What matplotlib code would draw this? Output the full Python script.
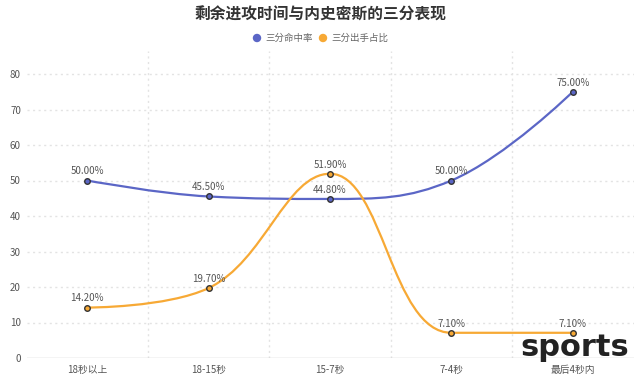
import matplotlib
matplotlib.use("Agg")
import matplotlib.pyplot as plt
import numpy as np
from matplotlib.path import Path
from matplotlib.patches import PathPatch

plt.rcParams['font.family'] = ['Noto Sans CJK SC', 'DejaVu Sans']

categories = ["18秒以上", "18-15秒", "15-7秒", "7-4秒", "最后4秒内"]
hit_rate = [50.0, 45.5, 44.8, 50.0, 75.0]
shot_share = [14.2, 19.7, 51.9, 7.1, 7.1]
series_names = ["三分命中率", "三分出手占比"]
yticks = [0, 10, 20, 30, 40, 50, 60, 70, 80]
title = "剩余进攻时间与内史密斯的三分表现"

blue = "#5b66c6"
orange = "#f7a935"

fig = plt.figure(figsize=(6.4, 3.79), dpi=100)
W, H = 640, 379
left, right, bottom, top = 26.5, 633.5, 358, 51
ax = fig.add_axes([left / W, 1 - bottom / H, (right - left) / W, (bottom - top) / H])
ax.set_xlim(-0.5, len(categories) - 0.5)
ax.set_ylim(0, 80 + (74 - 51) / 35.5 * 10)

for s in ax.spines.values():
    s.set_visible(False)
ax.axhline(0, color="#c8c8c8", lw=1, zorder=1)
for y in yticks[1:]:
    ax.axhline(y, color="#e3e3e3", lw=1, ls=(0, (1.5, 2.5)), zorder=0)
for xb in np.arange(0.5, len(categories) - 0.5, 1):
    ax.axvline(xb, color="#e3e3e3", lw=1, ls=(0, (1.5, 2.5)), zorder=0)

ax.set_yticks(yticks)
ax.set_yticklabels([str(v) for v in yticks], fontsize=7, color="#555555")
ax.set_xticks(range(len(categories)))
ax.set_xticklabels(categories, fontsize=7, color="#555555")
ax.tick_params(axis="both", length=0, pad=4)
ax.tick_params(axis="x", pad=5)


def echarts_smooth(px, py, smooth=0.4):
    # ECharts-style poly smoothing in display coordinates
    n = len(px)
    verts = [(px[0], py[0])]
    codes = [Path.MOVETO]
    cpx0, cpy0 = px[0], py[0]
    for i in range(1, n):
        x, y = px[i], py[i]
        prevX, prevY = px[i - 1], py[i - 1]
        if i == n - 1:
            cpx1, cpy1 = x, y
            ncx, ncy = x, y
        else:
            nextX, nextY = px[i + 1], py[i + 1]
            vx = nextX - prevX
            vy = nextY - prevY
            dx0, dx1 = x - prevX, nextX - x
            dy0, dy1 = y - prevY, nextY - y
            lp = np.hypot(dx0, dy0)
            ln = np.hypot(dx1, dy1)
            r = ln / (ln + lp)
            ncx = x + vx * smooth * r
            ncy = y + vy * smooth * r
            ncx = min(ncx, max(nextX, x)); ncy = min(ncy, max(nextY, y))
            ncx = max(ncx, min(nextX, x)); ncy = max(ncy, min(nextY, y))
            vx = ncx - x; vy = ncy - y
            cpx1 = x - vx * lp / ln; cpy1 = y - vy * lp / ln
            cpx1 = min(cpx1, max(prevX, x)); cpy1 = min(cpy1, max(prevY, y))
            cpx1 = max(cpx1, min(prevX, x)); cpy1 = max(cpy1, min(prevY, y))
            vx = x - cpx1; vy = y - cpy1
            ncx = x + vx * ln / lp; ncy = y + vy * ln / lp
        verts += [(cpx0, cpy0), (cpx1, cpy1), (x, y)]
        codes += [Path.CURVE4] * 3
        cpx0, cpy0 = ncx, ncy
    return verts, codes


fig.canvas.draw()
xs = np.arange(len(categories))
for vals, col in [(hit_rate, blue), (shot_share, orange)]:
    disp = ax.transData.transform(np.column_stack([xs, vals]))
    verts, codes = echarts_smooth(disp[:, 0], disp[:, 1])
    data_verts = ax.transData.inverted().transform(np.array(verts))
    path = Path(data_verts, codes)
    ax.add_patch(PathPatch(path, facecolor="none", edgecolor=col, lw=1.6, zorder=3))
    ax.plot(xs, vals, ls="none", marker="o", ms=4, mfc=col, mec="#333333", mew=1.0, zorder=4)
    for x, v in zip(xs, vals):
        ax.annotate(f"{v:.2f}%", (x, v), xytext=(0, 3), textcoords="offset points",
                    ha="center", va="bottom", fontsize=7, color="#555555", zorder=5)

fig.text(0.5, 1 - 15 / H, title, ha="center", va="center", fontsize=11.3,
         fontweight="bold", color="#333333")

# legend
ly = 1 - 38 / H
for cx_px, name, col in [(257, series_names[0], blue), (323, series_names[1], orange)]:
    fig.patches.append(matplotlib.patches.Ellipse((cx_px / W, ly), 7 / W, 7 / H,
                       transform=fig.transFigure, color=col, figure=fig))
    fig.text((cx_px + 8) / W, ly, name, ha="left", va="center", fontsize=6.8, color="#666666")

fig.text(629 / W, 1 - 348 / H, "sports", ha="right", va="center", fontsize=22,
         fontweight="bold", color="#222222", family=["DejaVu Sans"])

fig.savefig("out.png", dpi=100)
